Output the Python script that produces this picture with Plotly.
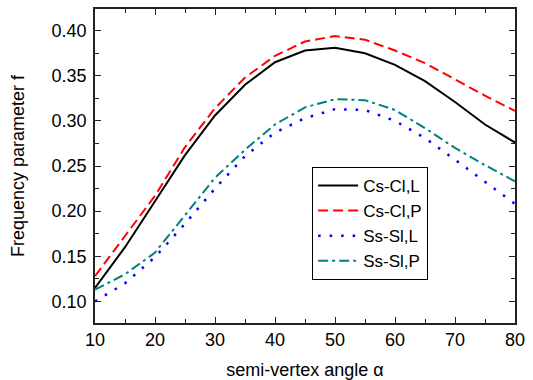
import plotly.graph_objects as go

angles = [10, 15, 20, 25, 30, 35, 40, 45, 50, 55, 60, 65, 70, 75, 80]
cs_cl_L = [0.115, 0.160, 0.211, 0.262, 0.306, 0.340, 0.365, 0.378, 0.381, 0.375, 0.362, 0.344, 0.321, 0.296, 0.276]
cs_cl_P = [0.128, 0.172, 0.217, 0.271, 0.314, 0.348, 0.372, 0.388, 0.394, 0.390, 0.378, 0.364, 0.346, 0.328, 0.311]
ss_sl_L = [0.100, 0.120, 0.149, 0.186, 0.225, 0.261, 0.287, 0.303, 0.313, 0.312, 0.300, 0.281, 0.257, 0.232, 0.208]
ss_sl_P = [0.113, 0.130, 0.154, 0.196, 0.237, 0.268, 0.296, 0.315, 0.324, 0.323, 0.312, 0.292, 0.270, 0.251, 0.233]

names = ["Cs-Cl,L", "Cs-Cl,P", "Ss-Sl,L", "Ss-Sl,P"]
series = [cs_cl_L, cs_cl_P, ss_sl_L, ss_sl_P]
colors = ["#000000", "#FF0000", "#0000FF", "#008080"]
dashes = ["solid", "10px,5px", "2.5px,9px", "10px,4px,3px,4px"]
widths = [2, 2, 2.5, 2]

fig = go.Figure()
for n, s, c, d, w in zip(names, series, colors, dashes, widths):
    fig.add_trace(go.Scatter(x=angles, y=s, mode="lines", name=n,
                             line=dict(color=c, width=w, dash=d)))

font_family = "Liberation Sans, Arial, sans-serif"
axis_common = dict(
    showline=True, linecolor="#222222", linewidth=1.6, mirror="ticks",
    ticks="inside", ticklen=6, tickwidth=1.2, tickcolor="#222222",
    showgrid=False, zeroline=False, automargin=False,
    tickfont=dict(family=font_family, size=18, color="#000000"),
)

fig.update_xaxes(range=[10, 80], dtick=10, tick0=10,
                 minor=dict(ticks="inside", ticklen=4, dtick=5, tick0=10, tickcolor="#222222", tickwidth=1.2),
                 title=dict(text="semi-vertex angle α", font=dict(family=font_family, size=18, color="#000000"), standoff=19),
                 **axis_common)
fig.update_yaxes(range=[0.076, 0.424], dtick=0.05, tick0=0.1, tickformat=".2f",
                 minor=dict(ticks="inside", ticklen=4, dtick=0.025, tick0=0.1, tickcolor="#222222", tickwidth=1.2),
                 title=dict(text="Frequency parameter f", font=dict(family=font_family, size=18, color="#000000"), standoff=22),
                 ticklabelstandoff=3,
                 **axis_common)

fig.update_layout(
    width=533, height=380,
    margin=dict(l=95, r=18, t=9, b=57),
    paper_bgcolor="white", plot_bgcolor="white",
    font=dict(family=font_family, size=18, color="#000000"),
    showlegend=True,
    legend=dict(x=0.517, y=0.497, xanchor="left", yanchor="top",
                bgcolor="white", bordercolor="#000000", borderwidth=1,
                font=dict(family=font_family, size=17, color="#000000"),
                itemwidth=40, tracegroupgap=0),
)

fig.write_html("out.html")
